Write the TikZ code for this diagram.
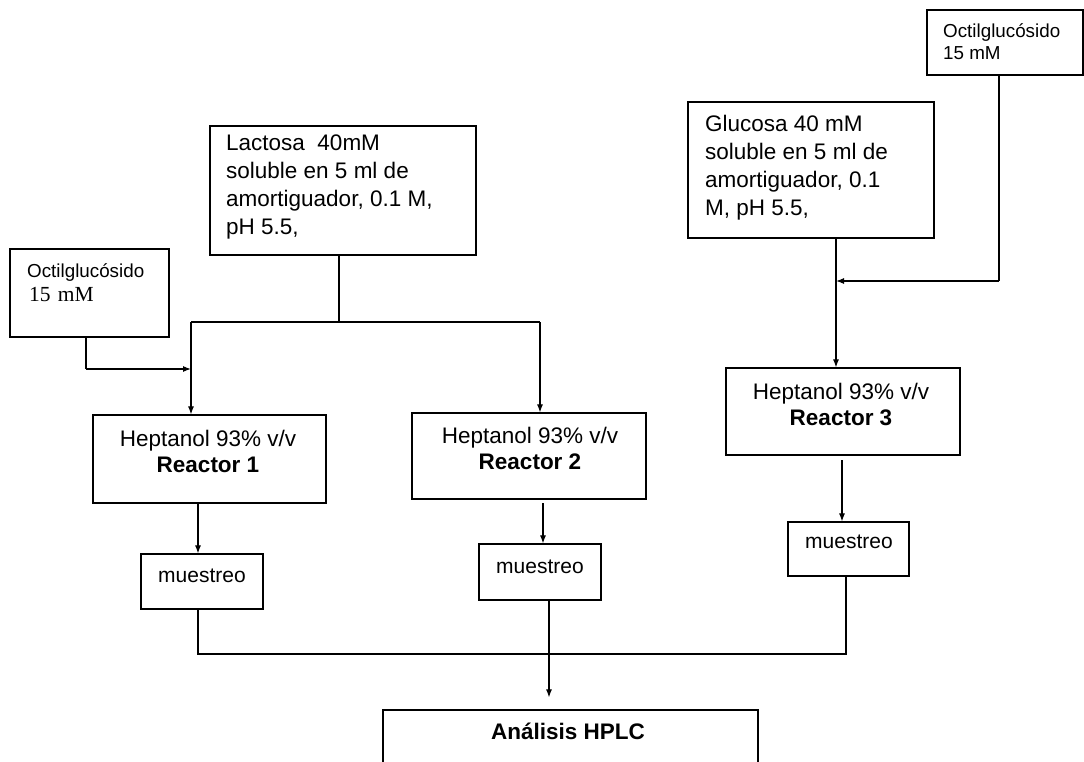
\documentclass[tikz,border=0pt]{standalone}
\usepackage{fontspec}
\setmainfont{Liberation Sans}
\newfontfamily\serifmm{Liberation Serif}
\usetikzlibrary{arrows.meta}
\begin{document}
\begin{tikzpicture}[x=1pt,y=-1pt,
  box/.style={draw, line width=1.2pt, inner sep=0pt},
  ln/.style={line width=1.1pt},
  arr/.style={line width=1.1pt, -{Latex[length=8pt,width=6pt]}},
  txt/.style={inner sep=0pt, font=\fontsize{22.5}{27}\selectfont},
  txtb/.style={inner sep=0pt, font=\fontsize{22.5}{27}\selectfont\bfseries},
  smalltxt/.style={inner sep=0pt, font=\fontsize{18.8}{22}\selectfont},
  mtxt/.style={inner sep=0pt, font=\fontsize{21}{25}\selectfont}]
\clip (0,0) rectangle (1084,762);
\fill[white] (0,0) rectangle (1084,762);

% boxes
\node[box, minimum width=156pt, minimum height=65pt] (oct2) at (1005,42.5) {};
\node[box, minimum width=246pt, minimum height=136pt] (glu) at (811,170) {};
\node[box, minimum width=266pt, minimum height=129pt] (lac) at (343,190.5) {};
\node[box, minimum width=159pt, minimum height=88pt] (oct1) at (89.5,293) {};
\node[box, minimum width=233pt, minimum height=88pt] (r1) at (209.5,459) {};
\node[box, minimum width=234pt, minimum height=86pt] (r2) at (529,456) {};
\node[box, minimum width=234pt, minimum height=87pt] (r3) at (843,411.5) {};
\node[box, minimum width=122pt, minimum height=55pt] (m1) at (202,581.5) {};
\node[box, minimum width=122pt, minimum height=56pt] (m2) at (540,572) {};
\node[box, minimum width=121pt, minimum height=54pt] (m3) at (848.5,549) {};
\node[box, minimum width=375pt, minimum height=90pt] (hplc) at (570.5,755) {};

% texts
\node[smalltxt, anchor=base west] (t1) at (943,38) {Octilglucósido};
\node[smalltxt, anchor=base west] (t2) at (943,60) {15 mM};
\foreach \t [count=\i from 0] in {{Glucosa 40 mM},{soluble en 5 ml de},{amortiguador, 0.1},{M, pH 5.5,}}
  \node[txt, anchor=base west] (g\i) at (705,132+27.7*\i) {\t};
\foreach \t [count=\i from 0] in {{Lactosa\ \ 40mM},{soluble en 5 ml de},{amortiguador, 0.1 M,},{pH 5.5,}}
  \node[txt, anchor=base west] (l\i) at (226,151+28*\i) {\t};
\node[smalltxt, anchor=base west] (t3) at (27,277) {Octilglucósido};
\node[inner sep=0pt, font=\serifmm\fontsize{21.5}{25}\selectfont, anchor=base west] (t4) at (29,301) {15\,\,mM};
\node[txt, anchor=base] (h1) at (208,446) {Heptanol 93\% v/v};
\node[txtb, anchor=base] (rr1) at (208,472) {Reactor 1};
\node[txt, anchor=base] (h2) at (530,443) {Heptanol 93\% v/v};
\node[txtb, anchor=base] (rr2) at (530,469) {Reactor 2};
\node[txt, anchor=base] (h3) at (841,399) {Heptanol 93\% v/v};
\node[txtb, anchor=base] (rr3) at (841,425) {Reactor 3};
\node[mtxt, anchor=base] (mt1) at (202,582) {muestreo};
\node[mtxt, anchor=base] (mt2) at (540,573) {muestreo};
\node[mtxt, anchor=base] (mt3) at (849,548) {muestreo};
\node[txtb, anchor=base] (ht) at (568,739) {Análisis HPLC};

% connector coordinates
\coordinate (j1) at (339,322);
\coordinate (a1) at (191,322);
\coordinate (a2) at (540,322);
\coordinate (b1) at (86,369);
\coordinate (c1) at (999,281);
\coordinate (gx) at (836,281);
\coordinate (d1) at (198,654);
\coordinate (d3) at (846,654);
\coordinate (e2) at (549,654);
\coordinate (k1) at (198,503);
\coordinate (k2) at (543,503);
\coordinate (k3) at (842,460);

% connectors
\draw[ln] (lac.south -| j1) -- (j1);
\draw[ln] (a1) -- (a2);
\draw[arr] (a1) -- (a1 |- r1.north);
\draw[arr] (a2) -- (a2 |- r2.north);
\draw[ln] (oct1.south -| b1) -- (b1);
\draw[arr] (b1) -- (b1 -| a1);
\draw[ln] (oct2.south -| c1) -- (c1);
\draw[arr] (c1) -- (gx);
\draw[arr] (glu.south -| gx) -- (gx |- r3.north);
\draw[arr] (r1.south -| k1) -- (m1.north -| k1);
\draw[arr] (k2) -- (m2.north -| k2);
\draw[arr] (k3) -- (m3.north -| k3);
\draw[ln] (m1.south -| d1) -- (d1) -- (d3) -- (m3.south -| d3);
\draw[arr, shorten >=12pt] (m2.south -| e2) -- (hplc.north -| e2);
\end{tikzpicture}
\end{document}
